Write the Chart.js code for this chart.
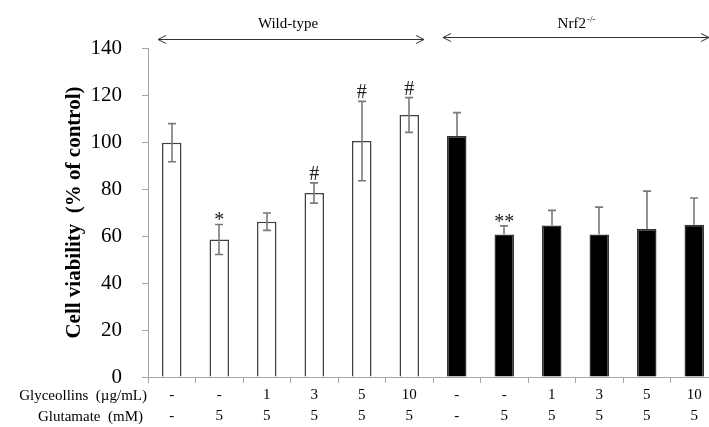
<!DOCTYPE html>
<html>
<head>
<meta charset="utf-8">
<script src="https://cdn.jsdelivr.net/npm/chart.js@4"></script>
<style>
  html, body { margin: 0; padding: 0; background: #fff; overflow: hidden; width: 709px; height: 427px; }
  #wrap { position: absolute; left: 0; top: 0; width: 720px; height: 427px; }
</style>
</head>
<body>
<div id="wrap"><canvas id="c"></canvas></div>
<script>
// ---- data ----
const categories = ['WT-ctrl','WT-Glu','WT-G1','WT-G3','WT-G5','WT-G10','KO-ctrl','KO-Glu','KO-G1','KO-G3','KO-G5','KO-G10'];
const glyceollins = ['-','-','1','3','5','10','-','-','1','3','5','10'];
const glutamate   = ['-','5','5','5','5','5','-','5','5','5','5','5'];
const viability   = [99.7, 58.5, 66.1, 78.3, 100.4, 111.5, 102.6, 60.6, 64.5, 60.6, 63.0, 64.8];
const errors      = [8.1, 6.4, 3.7, 4.3, 16.9, 7.4, 9.9, 3.7, 6.4, 11.7, 16.1, 11.4];
const markers     = ['', '*', '', '#', '#', '#', '', '**', '', '', '', ''];
const yTicks      = [0, 20, 40, 60, 80, 100, 120, 140];
const groupNames  = ['Wild-type', 'Nrf2'];
const groupSup    = ['', '-/-'];
const groupStart  = [0, 6];
const groupEnd    = [5, 11];
const rowTitles   = ['Glyceollins  (\u00b5g/mL)', 'Glutamate  (mM)'];

const SERIF = '"Liberation Serif", "Times New Roman", serif';

const extras = {
  id: 'extras',
  afterDatasetsDraw(chart) {
    const ctx = chart.ctx;
    const ys = chart.scales.y;
    const meta = chart.getDatasetMeta(0);
    ctx.save();
    // error bars (lower half hidden inside the black bars)
    ctx.strokeStyle = '#7a7a7a';
    ctx.lineWidth = 1.6;
    meta.data.forEach((bar, i) => {
      const x = Math.round(bar.x);
      const yt = ys.getPixelForValue(viability[i] + errors[i]);
      const yv = ys.getPixelForValue(viability[i]);
      const yb = ys.getPixelForValue(viability[i] - errors[i]);
      const dark = i >= 6;
      ctx.beginPath();
      ctx.moveTo(x, yt); ctx.lineTo(x, dark ? yv : yb);
      ctx.moveTo(x - 4, yt); ctx.lineTo(x + 4, yt);
      if (!dark) { ctx.moveTo(x - 4, yb); ctx.lineTo(x + 4, yb); }
      ctx.stroke();
    });
    // significance markers
    ctx.fillStyle = '#222';
    ctx.textAlign = 'center';
    ctx.textBaseline = 'alphabetic';
    ctx.font = '20px ' + SERIF;
    meta.data.forEach((bar, i) => {
      const m = markers[i];
      if (!m) return;
      const yt = ys.getPixelForValue(viability[i] + errors[i]);
      if (m.indexOf('*') >= 0) {
        ctx.fillText(m, bar.x, yt + 2);
      } else {
        ctx.fillText(m, bar.x, yt - 3);
      }
    });
    ctx.restore();
  },
  afterDraw(chart) {
    const ctx = chart.ctx;
    const xs = chart.scales.x;
    const half = (xs.getPixelForValue(1) - xs.getPixelForValue(0)) / 2;
    ctx.save();
    // group arrows
    ctx.strokeStyle = '#333';
    ctx.lineWidth = 1;
    ctx.fillStyle = '#000';
    groupNames.forEach((name, g) => {
      const x1 = xs.getPixelForValue(groupStart[g]) - half + 10;
      const x2 = xs.getPixelForValue(groupEnd[g]) + half - 9;
      const y = g === 0 ? 39.5 : 37.5;
      ctx.beginPath();
      ctx.moveTo(x1, y); ctx.lineTo(x2, y);
      ctx.moveTo(x1 + 8, y - 4); ctx.lineTo(x1, y); ctx.lineTo(x1 + 8, y + 4);
      ctx.moveTo(x2 - 8, y - 4); ctx.lineTo(x2, y); ctx.lineTo(x2 - 8, y + 4);
      ctx.stroke();
      const mid = (x1 + x2) / 2;
      ctx.font = '15px ' + SERIF;
      const w1 = ctx.measureText(name).width;
      ctx.font = '9px ' + SERIF;
      const w2 = groupSup[g] ? ctx.measureText(groupSup[g]).width : 0;
      const start = mid - (w1 + w2) / 2 - (g === 0 ? 3 : 0);
      ctx.textBaseline = 'alphabetic';
      ctx.textAlign = 'left';
      ctx.font = '15px ' + SERIF;
      ctx.fillText(name, start, 28);
      if (groupSup[g]) {
        ctx.font = '9px ' + SERIF;
        ctx.fillText(groupSup[g], start + w1 + 1, 22);
      }
    });
    // row titles for the treatment table
    ctx.font = '15px ' + SERIF;
    ctx.textAlign = 'right';
    ctx.textBaseline = 'middle';
    const b = chart.chartArea.bottom;
    ctx.fillText(rowTitles[0], 147, b + 19);
    ctx.fillText(rowTitles[1], 143, b + 40);
    ctx.restore();
  }
};

new Chart(document.getElementById('c'), {
  type: 'bar',
  data: {
    labels: categories,
    datasets: [{
      data: viability,
      backgroundColor: viability.map((v, i) => i < 6 ? '#ffffff' : '#000000'),
      borderColor: viability.map((v, i) => i < 6 ? '#404040' : '#333333'),
      borderWidth: 1.5,
      barPercentage: 0.41,
      categoryPercentage: 1.0
    }]
  },
  options: {
    responsive: true,
    maintainAspectRatio: false,
    animation: false,
    events: [],
    layout: { padding: { left: 0, right: 2, top: 48, bottom: 0 } },
    plugins: { legend: { display: false }, tooltip: { enabled: false } },
    scales: {
      x: {
        offset: true,
        grid: { offset: true, drawOnChartArea: false, drawTicks: true, tickLength: 6, color: '#a6a6a6' },
        border: { color: '#a6a6a6', width: 1 },
        ticks: {
          autoSkip: false,
          maxRotation: 0,
          padding: 2,
          color: '#000',
          font: { family: SERIF, size: 15, lineHeight: 1.4 },
          callback: (v, i) => [glyceollins[i], glutamate[i]]
        },
        afterFit: (s) => { s.height = 50; }
      },
      y: {
        min: 0, max: 140,
        afterBuildTicks: (s) => { s.ticks = yTicks.map(v => ({ value: v })); },
        grid: { drawOnChartArea: false, drawTicks: true, tickLength: 6, color: '#a6a6a6' },
        border: { color: '#a6a6a6', width: 1 },
        ticks: { padding: 20, color: '#000', font: { family: SERIF, size: 21 } },
        title: {
          display: true,
          text: 'Cell viability  (% of control)',
          color: '#000',
          font: { family: SERIF, size: 21, weight: 'bold', lineHeight: 1.2 },
          padding: { top: 62, bottom: 0 }
        },
        afterFit: (s) => { s.width = 148; }
      }
    }
  },
  plugins: [extras]
});
</script>
</body>
</html>
